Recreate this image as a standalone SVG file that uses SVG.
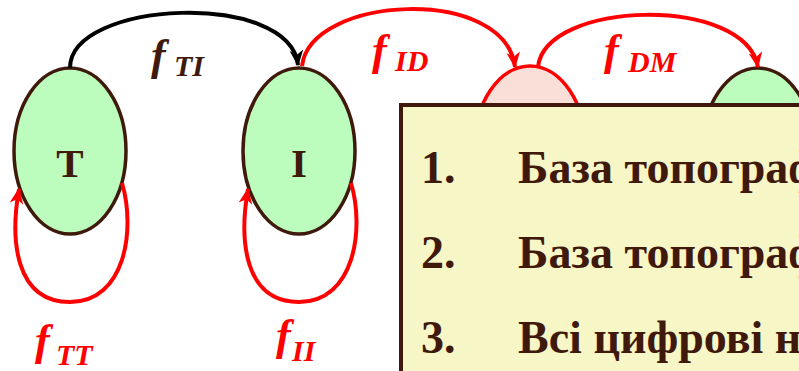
<svg xmlns="http://www.w3.org/2000/svg" width="799" height="371" viewBox="0 0 799 371">
<style>
.node{stroke:#3f1a0c;stroke-width:3.5;fill:#bcfcbc}
.nodeR{stroke:#ff0000;stroke-width:3.5;fill:#f9dfd8}
.lbl{font-family:"Liberation Serif","Times New Roman",serif;font-weight:bold;font-size:41px;fill:#3f1a0c;text-anchor:middle}
.f{font-family:"Liberation Serif","Times New Roman",serif;font-weight:bold;font-style:italic}
.fb{font-size:44px}
.fs{font-size:30px}
.red{fill:#ff0000}
.brown{fill:#3f1a0c}
.edge{fill:none;stroke-width:4}
.blk{stroke:#000}
.rd{stroke:#ff0000}
.item{font-family:"Liberation Serif","Times New Roman",serif;font-weight:bold;font-size:46px;fill:#3f1a0c}
</style>
<defs>
<marker id="ab" viewBox="0 0 14 14" refX="13" refY="7" markerWidth="16" markerHeight="16" markerUnits="userSpaceOnUse" orient="auto">
<path d="M0,1 L14,7 L0,13 L4,7 z" fill="#000"/>
</marker>
<marker id="ar" viewBox="0 0 14 14" refX="13" refY="7" markerWidth="16" markerHeight="16" markerUnits="userSpaceOnUse" orient="auto">
<path d="M0,1 L14,7 L0,13 L4,7 z" fill="#ff0000"/>
</marker>
</defs>
<g id="node-T">
<ellipse class="node" cx="70" cy="151" rx="56" ry="83"/>
<text class="lbl" x="70" y="177">T</text>
</g>
<g id="node-I">
<ellipse class="node" cx="299" cy="151" rx="56" ry="83"/>
<text class="lbl" x="299" y="177">I</text>
</g>
<g id="node-D">
<ellipse class="nodeR" cx="530" cy="149" rx="56" ry="83"/>
</g>
<g id="node-M">
<ellipse class="node" cx="758" cy="151" rx="56" ry="83"/>
</g>
<g id="connectors">
<path class="edge blk" d="M70,68 C70,0 290,-10 298,65" marker-end="url(#ab)"/>
<path class="edge rd" d="M302,66 C310,-5 505,-15 515,67" marker-end="url(#ar)"/>
<path class="edge rd" d="M538,67 C545,0 745,-5 758,67" marker-end="url(#ar)"/>
<path class="edge rd" d="M122,183 C136,230 125,302 70,302 C15,302 10,240 19,189" marker-end="url(#ar)"/>
<path class="edge rd" d="M351,183 C365,230 354,302 299,302 C244,302 239,240 248,189" marker-end="url(#ar)"/>
</g>
<g id="labels">
<text class="f brown" x="151" y="70"><tspan class="fb">f</tspan><tspan class="fs" x="174" y="76">TI</tspan></text>
<text class="f red" x="372" y="65"><tspan class="fb">f</tspan><tspan class="fs" x="395" y="71">ID</tspan></text>
<text class="f red" x="604" y="65"><tspan class="fb">f</tspan><tspan class="fs" x="628" y="72">DM</tspan></text>
<text class="f red" x="35" y="355"><tspan class="fb">f</tspan><tspan class="fs" x="56" y="365">TT</tspan></text>
<text class="f red" x="276" y="350"><tspan class="fb">f</tspan><tspan class="fs" x="292" y="361">II</tspan></text>
</g>
<g id="box">
<rect x="401" y="105" width="430" height="300" fill="#f7f6c6" stroke="#3f1a0c" stroke-width="4"/>
<text class="item" x="421" y="183">1.</text>
<text class="item" x="518" y="183">База топографічних даних</text>
<text class="item" x="421" y="268">2.</text>
<text class="item" x="518" y="268">База топографічних даних</text>
<text class="item" x="421" y="353">3.</text>
<text class="item" x="518" y="353">Всі цифрові набори даних</text>
</g>
</svg>
